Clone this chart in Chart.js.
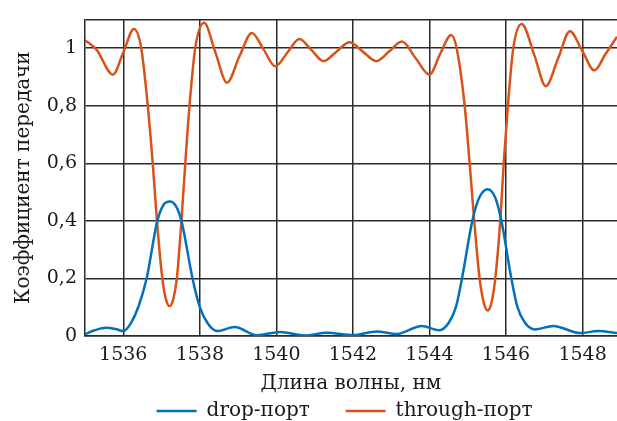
<!DOCTYPE html>
<html>
<head>
<meta charset="utf-8">
<script src="https://cdn.jsdelivr.net/npm/chart.js@4"></script>
<style>
  html, body { margin: 0; padding: 0; background: #fff; }
</style>
</head>
<body>
<canvas id="canvas" width="617" height="421"></canvas>
<script>
// drop-порт
const dropWavelength = [1535.00, 1535.25, 1535.56, 1535.80, 1536.00, 1536.20, 1536.39, 1536.61, 1536.89, 1537.05, 1537.22, 1537.38, 1537.52, 1537.81, 1538.00, 1538.20, 1538.45, 1538.91, 1539.49, 1540.10, 1540.75, 1541.32, 1542.01, 1542.62, 1543.15, 1543.80, 1544.26, 1544.50, 1544.69, 1544.85, 1545.12, 1545.30, 1545.52, 1545.72, 1545.88, 1546.14, 1546.30, 1546.50, 1546.76, 1547.24, 1547.93, 1548.41, 1548.90];
const dropValues = [0.006, 0.020, 0.029, 0.024, 0.017, 0.045, 0.100, 0.200, 0.400, 0.455, 0.467, 0.450, 0.400, 0.200, 0.100, 0.045, 0.017, 0.031, 0.003, 0.014, 0.002, 0.011, 0.003, 0.016, 0.007, 0.035, 0.020, 0.045, 0.100, 0.200, 0.400, 0.480, 0.510, 0.480, 0.400, 0.200, 0.100, 0.045, 0.023, 0.035, 0.010, 0.017, 0.010];

// through-порт
const throughWavelength = [1535.00, 1535.30, 1535.73, 1536.00, 1536.28, 1536.47, 1536.64, 1536.77, 1536.88, 1537.02, 1537.11, 1537.21, 1537.31, 1537.40, 1537.52, 1537.62, 1537.73, 1537.88, 1538.11, 1538.41, 1538.71, 1539.03, 1539.36, 1539.67, 1539.97, 1540.29, 1540.60, 1540.92, 1541.23, 1541.57, 1541.91, 1542.26, 1542.61, 1542.95, 1543.28, 1543.64, 1544.00, 1544.28, 1544.57, 1544.71, 1544.92, 1545.05, 1545.17, 1545.31, 1545.42, 1545.52, 1545.62, 1545.72, 1545.85, 1545.94, 1546.05, 1546.19, 1546.41, 1546.74, 1547.04, 1547.36, 1547.67, 1547.99, 1548.31, 1548.60, 1548.90];
const throughValues = [1.028, 0.995, 0.908, 0.985, 1.067, 1.000, 0.800, 0.600, 0.400, 0.200, 0.130, 0.104, 0.130, 0.200, 0.400, 0.600, 0.800, 1.000, 1.088, 0.984, 0.880, 0.970, 1.053, 0.995, 0.937, 0.985, 1.032, 0.993, 0.955, 0.988, 1.021, 0.988, 0.955, 0.989, 1.023, 0.965, 0.908, 0.980, 1.046, 1.000, 0.800, 0.600, 0.400, 0.200, 0.115, 0.089, 0.115, 0.200, 0.400, 0.600, 0.800, 1.000, 1.084, 0.976, 0.868, 0.964, 1.059, 0.991, 0.923, 0.980, 1.040];

const xTicks = [1536, 1538, 1540, 1542, 1544, 1546, 1548];
const yTicks = [0, 0.2, 0.4, 0.6, 0.8, 1];

const tickFont = { family: "'DejaVu Serif', serif", size: 19 };
const labelFont = { family: "'DejaVu Serif', serif", size: 20 };
const gridColor = '#2a2a2a';
const textColor = '#1a1a1a';

function toPoints(xs, ys) {
    return xs.map((x, i) => ({ x: x, y: ys[i] }));
}

const data = {
    datasets: [
        {
            label: 'drop-порт',
            data: toPoints(dropWavelength, dropValues),
            borderColor: '#0072BD',
            backgroundColor: '#0072BD',
            borderWidth: 2.5,
            cubicInterpolationMode: 'monotone',
            pointRadius: 0
        },
        {
            label: 'through-порт',
            data: toPoints(throughWavelength, throughValues),
            borderColor: '#D95319',
            backgroundColor: '#D95319',
            borderWidth: 2.5,
            cubicInterpolationMode: 'monotone',
            pointRadius: 0
        }]
};

const config = {
    type: 'line',
    data: data,
    options: {
        responsive: false,
        animation: false,
        layout: { padding: { top: 13, right: 0, left: 0, bottom: -10 } },
        plugins: {
            tooltip: { enabled: false },
            legend: {
                position: 'bottom',
                fullSize: false,
                labels: {
                    font: labelFont,
                    color: textColor,
                    boxWidth: 40,
                    boxHeight: 0,
                    padding: 4,
                    generateLabels: function (chart) {
                        const items = Chart.defaults.plugins.legend.labels.generateLabels(chart);
                        // spacing between the two entries, and a slight shift to the left
                        items[0].text += '\u00a0\u00a0\u00a0\u00a0\u00a0';
                        items[1].text += '\u00a0\u00a0';
                        items.forEach(it => { it.lineWidth = 2.5; });
                        return items;
                    }
                }
            }
        },
        scales: {
            x: {
                type: 'linear',
                min: 1535,
                max: 1548.9,
                afterBuildTicks: s => { s.ticks = xTicks.map(v => ({ value: v })); },
                afterFit: s => { s.height = 61; },
                grid: { color: gridColor, lineWidth: 1.5, drawTicks: false },
                border: { color: gridColor, width: 1.5 },
                ticks: { padding: 8, font: tickFont, color: textColor, maxRotation: 0, callback: v => String(v) },
                title: { display: true, text: 'Длина волны, нм', font: labelFont, color: textColor, padding: { top: 0, bottom: 1 } }
            },
            y: {
                min: 0,
                max: 1.1,
                afterBuildTicks: s => { s.ticks = yTicks.concat([1.1]).map(v => ({ value: v })); },
                afterFit: s => { s.width = 85; },
                grid: { color: gridColor, lineWidth: 1.5, drawTicks: false },
                border: { color: gridColor, width: 1.5 },
                ticks: {
                    padding: 8, font: tickFont, color: textColor,
                    callback: v => (v > 1.05 ? '' : String(v).replace('.', ','))
                },
                title: { display: true, text: 'Коэффициент передачи', font: labelFont, color: textColor, padding: { top: 12, bottom: 0 } }
            }
        }
    }
};

var canvas = document.getElementById('canvas');
const chart = new Chart(canvas, config);
</script>
</body>
</html>
